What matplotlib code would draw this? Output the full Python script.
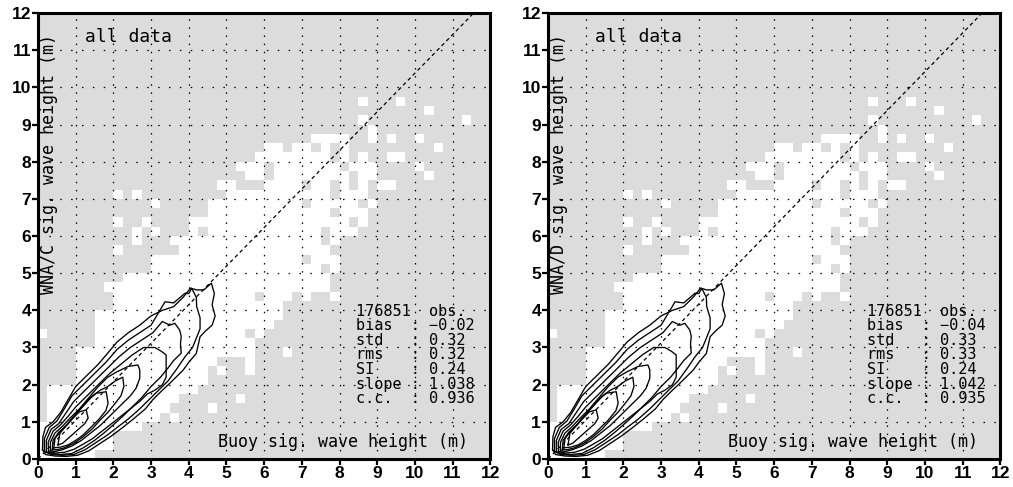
import numpy as np
import matplotlib
matplotlib.use('Agg')
import matplotlib.pyplot as plt
from matplotlib.colors import ListedColormap

# ---------------------------------------------------------------
# occupancy grid (0.25 m bins): white = bins that hold data
dh = 0.25
nbin = 48

# white spans (x0, x1) for each row, row given by its lower edge (m)
row_y = [0.0, 0.25, 0.5, 0.75, 1.0, 1.25, 1.5, 1.75, 2.0, 2.25, 2.5, 2.75,
         3.0, 3.25, 3.5, 3.75, 4.0, 4.25, 4.5, 4.75, 5.0, 5.25, 5.5, 5.75,
         6.0, 6.25, 6.5, 6.75, 7.0, 7.25, 7.5, 7.75, 8.0, 8.25, 8.5, 8.75,
         9.0, 9.25, 9.5]
row_spans = [
    [(0, 1.5)],
    [(0, 2.0)],
    [(0, 2.0)],
    [(0, 2.75)],
    [(0.25, 3.25), (3.5, 3.75)],
    [(0.25, 3.5), (4.5, 4.75)],
    [(0.25, 3.75), (5.25, 5.5)],
    [(0.25, 4.25)],
    [(1.0, 4.5)],
    [(1.0, 4.5), (4.75, 5.0), (5.5, 5.75)],
    [(1.0, 4.75), (5.5, 5.75)],
    [(1.0, 5.75), (6.5, 6.75)],
    [(1.5, 5.75)],
    [(0, 0.25), (1.5, 5.5), (5.75, 6.0)],
    [(1.5, 6.25)],
    [(1.5, 6.5)],
    [(2.0, 6.5)],
    [(2.0, 5.75), (6.0, 6.75), (7.0, 7.25), (7.75, 8.0)],
    [(1.75, 7.75)],
    [(2.25, 7.75)],
    [(3.0, 7.5), (7.75, 8.0)],
    [(3.0, 7.0), (7.25, 8.0)],
    [(2.0, 2.25), (3.75, 7.75)],
    [(2.5, 2.75), (3.5, 7.5), (7.75, 8.0)],
    [(2.5, 2.75), (3.0, 3.25), (4.0, 4.25), (4.5, 7.5), (7.75, 8.5)],
    [(2.0, 2.25), (2.75, 3.0), (4.0, 8.25), (8.5, 8.75)],
    [(4.5, 7.75), (8.0, 8.75)],
    [(3.0, 3.25), (4.5, 7.0), (7.25, 8.5), (8.75, 9.0)],
    [(2.0, 2.25), (2.5, 2.75), (5.0, 7.75), (8.0, 8.75)],
    [(4.75, 5.25), (6.0, 7.0), (7.25, 7.75), (8.0, 8.25), (8.5, 8.75), (9.0, 9.5)],
    [(5.5, 6.0), (6.25, 8.25), (8.5, 9.0), (10.25, 10.5)],
    [(5.25, 6.0), (6.25, 8.0), (8.25, 9.0), (10.0, 10.25)],
    [(5.75, 7.75), (8.0, 8.25), (8.5, 8.75), (9.25, 9.75)],
    [(6.0, 6.5), (6.75, 7.25), (7.5, 7.75), (8.0, 8.25), (10.5, 10.75)],
    [(7.25, 8.25), (8.75, 9.0), (9.25, 9.5), (10.0, 10.25)],
    [(8.75, 9.0)],
    [(8.5, 8.75), (11.25, 11.5)],
    [(10.25, 10.5)],
    [(8.5, 8.75), (9.5, 9.75)],
]

# density contours (outer -> inner)
contour_x = [
    [0.12, 0.13, 0.2, 0.4, 0.6, 0.8, 1.0, 1.3, 1.6, 1.85, 2.1, 2.4, 2.7, 3.0, 3.3,
     3.6, 3.85, 4.05, 4.2, 4.4, 4.6, 4.68, 4.62, 4.7, 4.62, 4.45, 4.3, 4.2, 4.0,
     3.85, 3.5, 3.3, 3.05, 2.85, 2.5, 2.25, 1.95, 1.65, 1.35, 1.05, 0.75, 0.45, 0.2, 0.12],
    [0.17, 0.17, 0.3, 0.5, 0.7, 0.9, 1.2, 1.5, 1.8, 2.1, 2.4, 2.7, 3.0, 3.37, 3.6,
     3.9, 4.0, 4.08, 4.2, 4.21, 4.3, 4.3, 4.2, 4.1, 3.9, 3.7, 3.45, 3.2, 2.95,
     2.7, 2.4, 2.1, 1.85, 1.55, 1.25, 0.95, 0.65, 0.35, 0.17],
    [0.22, 0.22, 0.35, 0.55, 0.75, 0.95, 1.25, 1.55, 1.85, 2.15, 2.45, 2.75, 3.05,
     3.3, 3.5, 3.63, 3.76, 3.8, 3.78, 3.8, 3.6, 3.45, 3.25, 3.0, 2.75, 2.5, 2.25,
     2.0, 1.75, 1.5, 1.2, 0.9, 0.6, 0.35, 0.22],
    [0.28, 0.27, 0.4, 0.6, 0.8, 1.0, 1.3, 1.6, 1.9, 2.2, 2.5, 2.8, 3.1, 3.27, 3.4,
     3.4, 3.3, 3.1, 2.9, 2.7, 2.45, 2.2, 1.95, 1.7, 1.45, 1.2, 0.95, 0.7, 0.45, 0.28],
    [0.33, 0.33, 0.45, 0.65, 0.85, 1.1, 1.35, 1.6, 1.85, 2.1, 2.39, 2.65, 2.7,
     2.7, 2.6, 2.45, 2.25, 2.05, 1.85, 1.65, 1.4, 1.15, 0.9, 0.65, 0.45, 0.33],
    [0.38, 0.4, 0.55, 0.75, 0.95, 1.2, 1.45, 1.65, 1.85, 2.05, 2.25, 2.28, 2.2,
     2.05, 1.85, 1.65, 1.45, 1.2, 0.95, 0.7, 0.5, 0.38],
    [0.42, 0.45, 0.6, 0.8, 1.0, 1.2, 1.4, 1.55, 1.81, 1.86, 1.8, 1.6, 1.4, 1.2,
     1.0, 0.8, 0.6, 0.42],
    [0.53, 0.58, 0.75, 0.88, 1.1, 1.28, 1.33, 1.24, 1.05, 0.85, 0.65, 0.53],
]
contour_y = [
    [0.25, 0.6, 0.85, 1.0, 1.25, 1.6, 1.95, 2.25, 2.55, 2.85, 3.15, 3.4, 3.6, 3.85,
     4.0, 4.1, 4.35, 4.6, 4.55, 4.55, 4.73, 4.45, 4.15, 3.85, 3.6, 3.45, 3.29, 2.84,
     2.6, 2.39, 2.04, 1.85, 1.6, 1.35, 1.05, 0.85, 0.62, 0.42, 0.22, 0.1, 0.07, 0.08, 0.12, 0.25],
    [0.2, 0.55, 0.85, 1.02, 1.35, 1.7, 2.0, 2.3, 2.6, 2.95, 3.2, 3.4, 3.6, 4.23, 4.2,
     4.46, 4.45, 4.59, 4.35, 4.1, 3.8, 3.5, 3.25, 3.0, 2.75, 2.45, 2.1, 1.85, 1.6,
     1.35, 1.08, 0.85, 0.65, 0.45, 0.25, 0.12, 0.1, 0.12, 0.2],
    [0.2, 0.5, 0.8, 0.95, 1.25, 1.55, 1.85, 2.15, 2.45, 2.75, 3.0, 3.2, 3.4, 3.7,
     3.6, 3.65, 3.47, 3.3, 3.1, 2.85, 2.65, 2.45, 2.2, 1.95, 1.65, 1.4, 1.15, 0.92,
     0.7, 0.5, 0.3, 0.15, 0.12, 0.15, 0.2],
    [0.2, 0.45, 0.75, 0.92, 1.15, 1.4, 1.7, 2.0, 2.3, 2.55, 2.8, 3.0, 3.0, 2.9, 2.8,
     2.2, 2.0, 1.85, 1.75, 1.55, 1.35, 1.15, 0.95, 0.75, 0.55, 0.4, 0.26, 0.18, 0.16, 0.2],
    [0.22, 0.45, 0.7, 0.88, 1.1, 1.35, 1.65, 1.95, 2.2, 2.35, 2.49, 2.53, 2.4,
     2.17, 1.9, 1.7, 1.5, 1.3, 1.1, 0.9, 0.7, 0.5, 0.35, 0.25, 0.2, 0.22],
    [0.25, 0.5, 0.72, 0.9, 1.15, 1.42, 1.7, 1.85, 1.95, 2.1, 2.2, 1.95, 1.7,
     1.5, 1.25, 1.05, 0.82, 0.6, 0.42, 0.3, 0.25, 0.25],
    [0.3, 0.55, 0.75, 0.95, 1.2, 1.45, 1.65, 1.77, 1.81, 1.5, 1.3, 1.05, 0.85, 0.65,
     0.5, 0.38, 0.32, 0.3],
    [0.38, 0.69, 0.9, 1.05, 1.27, 1.32, 1.1, 0.95, 0.78, 0.6, 0.42, 0.38],
]

# statistics printed on each panel
models = ['WNA/C', 'WNA/D']
n_obs = 176851
bias = [-0.02, -0.04]
std = [0.32, 0.33]
rms = [0.32, 0.33]
si = [0.24, 0.24]
slope = [1.038, 1.042]
cc = [0.936, 0.935]

ticks = list(range(13))

# ---------------------------------------------------------------
grey = '#dcdcdc'
mask = np.zeros((nbin, nbin))
for y, spans in zip(row_y, row_spans):
    r = int(round(y / dh))
    for x0, x1 in spans:
        mask[r, int(round(x0 / dh)):int(round(x1 / dh))] = 1
edges = np.arange(nbin + 1) * dh

txt = dict(family='DejaVu Sans Mono', fontsize=12, color='black')


def fmt(v, nd):
    return f'{v:.{nd}f}'.replace('-', '\u2212')


fig = plt.figure(figsize=(10.13, 4.87), dpi=100)
lefts = [0.0375, 0.541]

for i, left in enumerate(lefts):
    ax = fig.add_axes([left, 0.0575, 0.4465, 0.9158])
    ax.set_facecolor(grey)
    ax.pcolormesh(edges, edges, mask, cmap=ListedColormap([grey, 'white']),
                  vmin=0, vmax=1, zorder=1)

    for cx, cy in zip(contour_x, contour_y):
        ax.plot(cx, cy, color='black', lw=0.95, zorder=3)

    # regression line y = slope * x
    xl = np.array([0.0, 12.0 / slope[i]])
    ax.plot(xl, slope[i] * xl, color='black', lw=0.9,
            linestyle=(0, (3, 2.5)), zorder=3)

    ax.set_xlim(0, 12)
    ax.set_ylim(0, 12)
    ax.set_xticks(ticks)
    ax.set_yticks(ticks)
    ax.xaxis.grid(True, color='black', lw=0.9, linestyle=(0, (1.2, 5.3)))
    ax.yaxis.grid(True, color='black', lw=0.9, linestyle=(0, (1.2, 7.5)))
    ax.tick_params(direction='out', length=4, width=1.6, pad=1,
                   labelsize=12.5)
    for lab in ax.get_xticklabels() + ax.get_yticklabels():
        lab.set_fontweight('bold')
        lab.set_family('Liberation Sans')
    for sp in ax.spines.values():
        sp.set_linewidth(2.2)

    ax.text(1.25, 11.35, 'all data', va='center', ha='left',
            **{**txt, 'fontsize': 13})
    ax.text(0.3, 7.95, models[i] + ' sig. wave height (m)', rotation=90,
            va='center', ha='center', **txt)
    ax.text(11.4, 0.45, 'Buoy sig. wave height (m)', va='center',
            ha='right', **txt)

    # statistics block, one text with aligned columns
    labels = ['bias', 'std', 'rms', 'SI', 'slope', 'c.c.']
    values = [fmt(bias[i], 2), fmt(std[i], 2), fmt(rms[i], 2),
              fmt(si[i], 2), fmt(slope[i], 3), fmt(cc[i], 3)]
    lines = [f'{n_obs}  obs.'] + [f'{lab:<5} : {val}'
                                   for lab, val in zip(labels, values)]
    ax.text(8.45, 4.18, '\n'.join(lines), va='top', ha='left',
            linespacing=0.965, **{**txt, 'fontsize': 11})

fig.savefig('out.png', dpi=100)
